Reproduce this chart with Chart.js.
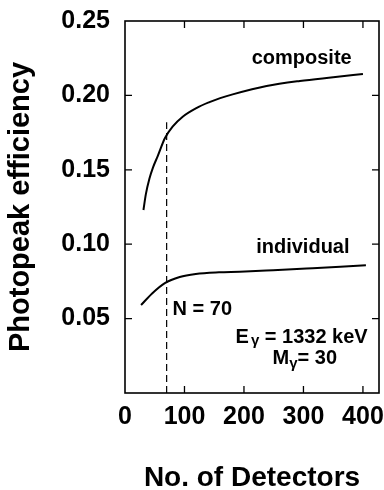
<!DOCTYPE html>
<html>
<head>
<meta charset="utf-8">
<script src="https://cdn.jsdelivr.net/npm/chart.js@4.4.1/dist/chart.umd.min.js"></script>
<style>
  html, body { margin: 0; padding: 0; background: #fff; }
  #wrap { width: 384px; height: 490px; position: relative; }
</style>
</head>
<body>
<div id="wrap"><canvas id="c"></canvas></div>
<script>
// ---- data ----
const compositeN   = [31, 35, 41, 47, 55, 67, 80, 97, 120, 142, 160, 181, 238, 294, 350, 400];
const compositeEff = [0.123, 0.1335, 0.1440, 0.1515, 0.1592, 0.1712, 0.1790, 0.1857, 0.1915, 0.1955, 0.1982, 0.2007, 0.2063, 0.2097, 0.2122, 0.2144];
const individualN   = [27, 46, 67, 92, 119, 158, 193, 249, 305, 362, 405];
const individualEff = [0.0591, 0.0671, 0.0739, 0.0780, 0.0800, 0.0811, 0.0815, 0.0825, 0.0836, 0.0848, 0.0859];
const cutN = [70, 70];
const cutEff = [0, 0.182];
const xTickValues = [0, 100, 200, 300, 400];
const yTickValues = [0.05, 0.10, 0.15, 0.20, 0.25];

const FONT = "'Liberation Sans', Arial, Helvetica, sans-serif";

function pts(xs, ys) { return xs.map((x, i) => ({ x: x, y: ys[i] })); }

// annotation texts placed in data coordinates
const notes = [
  { text: 'composite', x: 297, y: 0.2251, align: 'center' },
  { text: 'individual', x: 299, y: 0.0981, align: 'center' },
  { text: 'N = 70', x: 80, y: 0.0558, align: 'left' }
];

const framePlugin = {
  id: 'frame',
  afterDatasetsDraw(chart) {
    const { ctx, chartArea: a, scales } = chart;
    const xs = scales.x, ys = scales.y;
    ctx.save();
    ctx.strokeStyle = '#000';
    ctx.lineWidth = 1.6;
    ctx.strokeRect(a.left, a.top, a.right - a.left, a.bottom - a.top);
    const L = 7;
    ctx.lineWidth = 1.3;
    ctx.beginPath();
    xTickValues.forEach(v => {
      if (v === 0) return;
      const px = xs.getPixelForValue(v);
      ctx.moveTo(px, a.bottom); ctx.lineTo(px, a.bottom - L);
      ctx.moveTo(px, a.top); ctx.lineTo(px, a.top + L);
    });
    yTickValues.forEach(v => {
      if (v >= 0.25) return;
      const py = ys.getPixelForValue(v);
      ctx.moveTo(a.left, py); ctx.lineTo(a.left + L, py);
      ctx.moveTo(a.right, py); ctx.lineTo(a.right - L, py);
    });
    ctx.stroke();

    // annotations
    ctx.fillStyle = '#000';
    ctx.textBaseline = 'middle';
    const big = 'bold 20px ' + FONT, small = 'bold 15px ' + FONT;
    ctx.font = big;
    notes.forEach(n => {
      ctx.textAlign = n.align;
      ctx.fillText(n.text, xs.getPixelForValue(n.x), ys.getPixelForValue(n.y));
    });

    // E_gamma = 1332 keV (right aligned)
    const ex = xs.getPixelForValue(408), ey = ys.getPixelForValue(0.0376);
    ctx.font = big;
    const wE = ctx.measureText('E').width;
    const wRest = ctx.measureText(' = 1332 keV').width;
    ctx.font = small;
    const wG = ctx.measureText('\u03B3').width;
    let sx = ex - (wE + wG + 2 + wRest);
    ctx.textAlign = 'left';
    ctx.font = big; ctx.fillText('E', sx, ey);
    ctx.font = small; ctx.fillText('\u03B3', sx + wE + 2, ey + 4);
    ctx.font = big; ctx.fillText(' = 1332 keV', sx + wE + 2 + wG, ey);

    // M_gamma = 30 (left aligned)
    const mx = xs.getPixelForValue(248), my = ys.getPixelForValue(0.0235);
    ctx.font = big;
    ctx.fillText('M', mx, my);
    const wM = ctx.measureText('M').width;
    ctx.font = small;
    ctx.fillText('\u03B3', mx + wM, my + 6);
    const wG2 = ctx.measureText('\u03B3').width;
    ctx.font = big;
    ctx.fillText('= 30', mx + wM + wG2, my);
    ctx.restore();
  }
};

new Chart(document.getElementById('c'), {
  type: 'line',
  data: {
    datasets: [
      { label: 'composite', data: pts(compositeN, compositeEff), borderColor: '#000', borderWidth: 2, pointRadius: 0, cubicInterpolationMode: 'monotone', fill: false },
      { label: 'individual', data: pts(individualN, individualEff), borderColor: '#000', borderWidth: 2, pointRadius: 0, cubicInterpolationMode: 'monotone', fill: false },
      { label: 'N = 70', data: pts(cutN, cutEff), borderColor: '#000', borderWidth: 1.2, borderDash: [7, 4], pointRadius: 0, fill: false }
    ]
  },
  options: {
    responsive: true,
    maintainAspectRatio: false,
    animation: false,
    events: [],
    layout: { padding: { top: 21, right: 5, left: 0, bottom: 0 } },
    plugins: { legend: { display: false }, tooltip: { enabled: false } },
    scales: {
      x: {
        type: 'linear',
        min: 0, max: 427,
        afterFit(s) { s.height = 97; s.paddingLeft = 0; s.paddingRight = 0; },
        afterBuildTicks(s) { s.ticks = xTickValues.map(v => ({ value: v })); },
        ticks: { color: '#000', font: { family: FONT, size: 25, weight: 'bold' }, padding: 9, maxRotation: 0, autoSkip: false, includeBounds: false },
        grid: { display: false, drawTicks: false },
        border: { display: false },
        title: { display: true, text: 'No. of Detectors', color: '#000', font: { family: FONT, size: 28, weight: 'bold', lineHeight: 0.85 }, padding: 0 }
      },
      y: {
        type: 'linear',
        min: 0, max: 0.25,
        afterFit(s) { s.width = 125; s.paddingTop = 0; s.paddingBottom = 0; },
        afterBuildTicks(s) { s.ticks = yTickValues.map(v => ({ value: v })); },
        ticks: { color: '#000', font: { family: FONT, size: 25, weight: 'bold' }, padding: 15, autoSkip: false,
                 callback: v => v.toFixed(2) },
        grid: { display: false, drawTicks: false },
        border: { display: false },
        title: { display: true, text: 'Photopeak efficiency', color: '#000', font: { family: FONT, size: 29, weight: 'bold', lineHeight: 1.2 }, padding: { top: 4, bottom: 0 } }
      }
    }
  },
  plugins: [framePlugin]
});
</script>
</body>
</html>
